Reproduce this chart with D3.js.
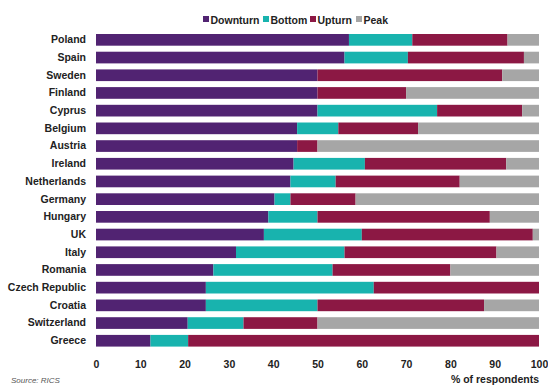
<!DOCTYPE html>
<html>
<head>
<meta charset="utf-8">
<script src="https://cdn.jsdelivr.net/npm/d3@7"></script>
<style>
  body { margin: 0; background: #fff; }
  svg { font-family: "Liberation Sans", Arial, sans-serif; }
  .tick text { font-weight: bold; fill: #222; }
</style>
</head>
<body>
<svg width="548" height="385"></svg>
<script>
const countries = ["Poland", "Spain", "Sweden", "Finland", "Cyprus", "Belgium", "Austria", "Ireland",
  "Netherlands", "Germany", "Hungary", "UK", "Italy", "Romania", "Czech Republic", "Croatia",
  "Switzerland", "Greece"];
const phases = ["Downturn", "Bottom", "Upturn", "Peak"];
const downturn = [57.1, 56.1, 50.0, 50.0, 50.0, 45.4, 45.4, 44.6, 43.9, 40.3, 38.9, 37.9, 31.6, 26.5, 24.8, 24.8, 20.7, 12.3];
const bottom   = [14.3, 14.3, 0.0, 0.0, 27.0, 9.3, 0.0, 16.1, 10.2, 3.6, 11.1, 22.1, 24.5, 26.9, 37.9, 25.2, 12.6, 8.5];
const upturn   = [21.5, 26.2, 41.7, 20.0, 19.2, 18.0, 4.6, 31.9, 28.0, 14.7, 38.9, 38.6, 34.3, 26.6, 37.3, 37.6, 16.7, 79.2];
const peak     = [7.1, 3.4, 8.3, 30.0, 3.8, 27.3, 50.0, 7.4, 17.9, 41.4, 11.1, 1.4, 9.6, 20.0, 0.0, 12.4, 50.0, 0.0];
const xTicks = [0, 10, 20, 30, 40, 50, 60, 70, 80, 90, 100];
const colors = ["#512372", "#18b3ae", "#8c1844", "#a6a6a6"];

const svg = d3.select("svg");

const rows = countries.map((c, i) => ({
  country: c, Downturn: downturn[i], Bottom: bottom[i], Upturn: upturn[i], Peak: peak[i]
}));
const stacked = d3.stack().keys(phases)(rows);

const x = d3.scaleLinear().domain([0, 100]).range([96, 539]);
const y = d3.scaleBand().domain(countries).range([31, 349.6]).paddingInner(0.34).paddingOuter(0.17);
const color = d3.scaleOrdinal().domain(phases).range(colors);

svg.append("g")
  .selectAll("g")
  .data(stacked)
  .join("g")
  .attr("fill", d => color(d.key))
  .selectAll("rect")
  .data(d => d)
  .join("rect")
  .attr("x", d => x(d[0]))
  .attr("y", d => y(d.data.country))
  .attr("width", d => Math.max(0, x(d[1]) - x(d[0])))
  .attr("height", y.bandwidth());

// country labels
const yAxis = svg.append("g")
  .attr("transform", "translate(90,0)")
  .call(d3.axisLeft(y).tickSize(0).tickPadding(4));
yAxis.select(".domain").remove();
yAxis.selectAll("text").style("font-size", "10.5px");

// x ticks
const xAxis = svg.append("g")
  .attr("transform", "translate(0,357)")
  .call(d3.axisBottom(x).tickValues(xTicks).tickSize(0).tickPadding(4));
xAxis.select(".domain").remove();
xAxis.selectAll("text").style("font-size", "10.5px");

svg.append("text")
  .attr("x", 539).attr("y", 383)
  .attr("text-anchor", "end")
  .style("font-size", "10.5px").style("font-weight", "bold").attr("fill", "#222")
  .text("% of respondents");

svg.append("text")
  .attr("x", 11).attr("y", 383)
  .style("font-size", "8px").style("font-style", "italic").attr("fill", "#555")
  .text("Source: RICS");

// legend
const legend = svg.append("g").attr("transform", "translate(0,20)");
const legendX = [203, 263, 310, 356];
phases.forEach((p, i) => {
  const g = legend.append("g").attr("transform", `translate(${legendX[i]},0)`);
  g.append("rect").attr("x", 0).attr("y", -4).attr("width", 6).attr("height", 6).attr("fill", colors[i]);
  g.append("text").attr("x", 7.5).attr("y", 3.5)
    .style("font-size", "10.5px").style("font-weight", "bold").attr("fill", "#222")
    .text(p);
});
</script>
</body>
</html>
